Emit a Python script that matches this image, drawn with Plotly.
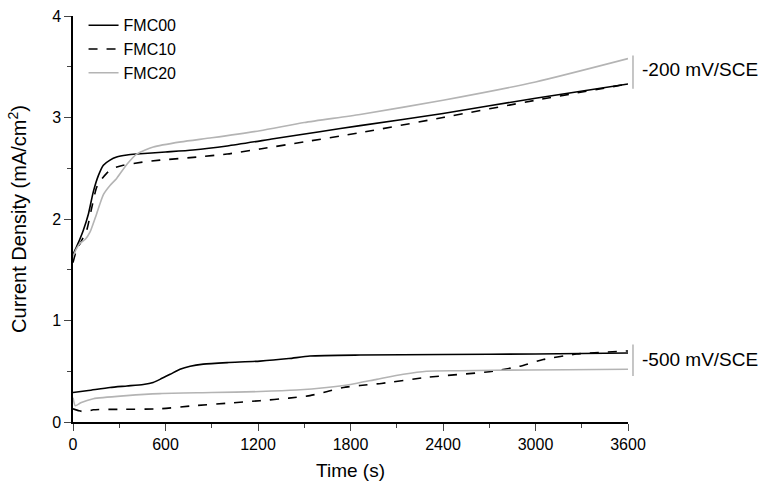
import plotly.graph_objects as go

# Upper curves (-200 mV/SCE)
t00_hi = [0, 30, 67, 100, 132, 165, 197, 240, 283, 350, 413, 600, 778, 1000, 1300, 1600, 1862, 2400, 3000, 3600]
j00_hi = [1.65, 1.75, 1.89, 2.05, 2.27, 2.43, 2.53, 2.58, 2.61, 2.63, 2.64, 2.66, 2.68, 2.72, 2.79, 2.86, 2.92, 3.04, 3.19, 3.33]

t10_hi = [0, 20, 50, 89, 120, 153, 185, 218, 260, 326, 450, 564, 800, 1000, 1213, 1500, 1862, 2400, 3000, 3600]
j10_hi = [1.57, 1.68, 1.77, 1.89, 2.10, 2.31, 2.39, 2.45, 2.50, 2.53, 2.56, 2.58, 2.61, 2.64, 2.69, 2.76, 2.85, 3.00, 3.17, 3.33]

t20_hi = [0, 20, 45, 80, 110, 153, 197, 240, 283, 350, 413, 521, 700, 900, 1213, 1500, 1862, 2400, 3000, 3600]
j20_hi = [1.63, 1.70, 1.76, 1.80, 1.87, 2.05, 2.24, 2.33, 2.40, 2.54, 2.64, 2.71, 2.76, 2.80, 2.87, 2.95, 3.03, 3.17, 3.35, 3.58]

# Lower curves (-500 mV/SCE)
t00_lo = [0, 100, 240, 350, 456, 520, 564, 630, 694, 760, 845, 1000, 1213, 1400, 1537, 1862, 2400, 3000, 3600]
j00_lo = [0.29, 0.31, 0.34, 0.355, 0.37, 0.39, 0.42, 0.47, 0.52, 0.55, 0.57, 0.585, 0.60, 0.625, 0.65, 0.66, 0.665, 0.67, 0.68]

t10_lo = [0, 40, 78, 132, 300, 564, 780, 1000, 1213, 1400, 1537, 1650, 1753, 1862, 2000, 2294, 2727, 2900, 3050, 3267, 3600]
j10_lo = [0.13, 0.11, 0.10, 0.12, 0.125, 0.13, 0.16, 0.185, 0.21, 0.235, 0.26, 0.30, 0.34, 0.36, 0.38, 0.44, 0.50, 0.55, 0.615, 0.67, 0.70]

t20_lo = [0, 15, 50, 132, 348, 564, 900, 1213, 1450, 1645, 1800, 1970, 2143, 2294, 2500, 2727, 3200, 3600]
j20_lo = [0.24, 0.16, 0.19, 0.23, 0.26, 0.28, 0.29, 0.30, 0.315, 0.34, 0.37, 0.42, 0.47, 0.50, 0.505, 0.51, 0.515, 0.52]

series = [
    ("FMC00", t00_hi, j00_hi, t00_lo, j00_lo, "black", "solid"),
    ("FMC10", t10_hi, j10_hi, t10_lo, j10_lo, "black", "dash"),
    ("FMC20", t20_hi, j20_hi, t20_lo, j20_lo, "#b4b4b4", "solid"),
]

fig = go.Figure()
for name, th, jh, tl, jl, col, dash in series:
    fig.add_trace(go.Scatter(x=th, y=jh, mode="lines", name=name, legendgroup=name,
                             line=dict(color=col, width=1.6, dash=dash, shape="spline", smoothing=0.6)))
    fig.add_trace(go.Scatter(x=tl, y=jl, mode="lines", name=name, legendgroup=name, showlegend=False,
                             line=dict(color=col, width=1.6, dash=dash, shape="spline", smoothing=0.6)))

font = "Liberation Sans, Arial, sans-serif"
fig.update_layout(
    width=767, height=486,
    margin=dict(l=73, r=139, t=8, b=64),
    paper_bgcolor="white", plot_bgcolor="white",
    font=dict(family=font, size=16, color="black"),
    showlegend=True,
    legend=dict(x=0.019, y=1.019, xanchor="left", yanchor="top", bgcolor="rgba(0,0,0,0)",
                font=dict(size=16), tracegroupgap=0, itemwidth=30),
    xaxis=dict(range=[0, 3600], tickvals=[0, 600, 1200, 1800, 2400, 3000, 3600],
               ticks="outside", ticklen=7, tickwidth=1.2, showline=True, linecolor="black", linewidth=1.5,
               showgrid=False, zeroline=False, automargin=False, ticklabeloverflow="allow",
               minor=dict(tickvals=[300, 900, 1500, 2100, 2700, 3300], ticks="outside", ticklen=4, tickwidth=1.2),
               title=dict(text="Time (s)", font=dict(size=19), standoff=12)),
    yaxis=dict(range=[0, 4], tickvals=[0, 1, 2, 3, 4],
               ticks="outside", ticklen=7, tickwidth=1.2, showline=True, linecolor="black", linewidth=1.5,
               showgrid=False, zeroline=False, automargin=False, ticklabeloverflow="allow",
               minor=dict(tickvals=[0.5, 1.5, 2.5, 3.5], ticks="outside", ticklen=4, tickwidth=1.2),
               title=dict(text="Current Density (mA/cm<sup>2</sup>)", font=dict(size=20), standoff=20)),
)

fig.add_shape(type="line", xref="paper", yref="paper", x0=1.009, x1=1.009, y0=0.821, y1=0.903,
              line=dict(color="#a0a0a0", width=1.2))
fig.add_shape(type="line", xref="paper", yref="paper", x0=1.009, x1=1.009, y0=0.1135, y1=0.191,
              line=dict(color="#a0a0a0", width=1.2))
fig.add_annotation(xref="paper", yref="paper", x=1.022, y=0.867, text="-200 mV/SCE", showarrow=False,
                   xanchor="left", yanchor="middle", font=dict(size=19))
fig.add_annotation(xref="paper", yref="paper", x=1.022, y=0.155, text="-500 mV/SCE", showarrow=False,
                   xanchor="left", yanchor="middle", font=dict(size=19))

fig.write_html("out.html", post_script="document.body.style.margin='0';",
               config={"displayModeBar": False})
